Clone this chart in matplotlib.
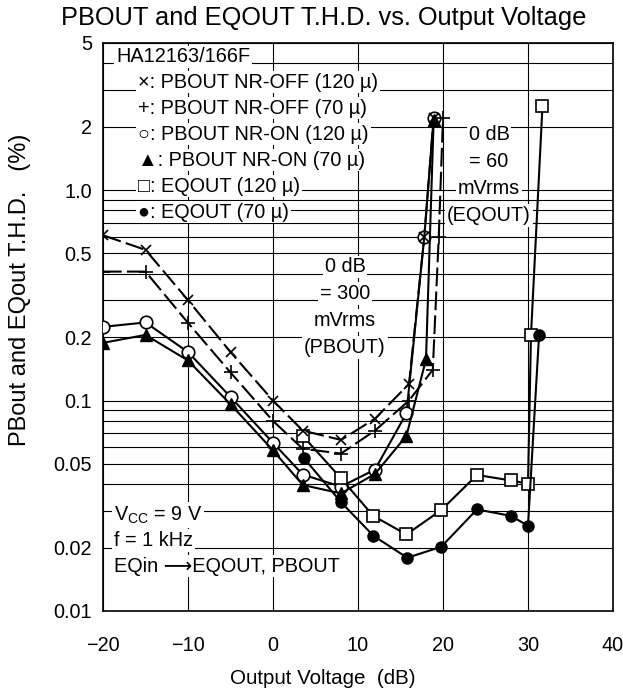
import matplotlib
matplotlib.use("Agg")
import matplotlib.pyplot as plt
from matplotlib.ticker import FixedLocator, NullFormatter

plt.rcParams['font.family'] = ['Liberation Sans', 'DejaVu Sans']
plt.rcParams['mathtext.default'] = 'regular'

# ---- data ----
x_pb_off120 = [-20, -15, -10, -5, 0, 3.5, 8, 12, 16, 17.8, 18.9]
y_pb_off120 = [0.61, 0.52, 0.30, 0.17, 0.10, 0.072, 0.065, 0.082, 0.12, 0.60, 2.2]

x_pb_off70 = [-20, -15, -10, -5, 0, 3.5, 8, 12, 16, 18.8, 19.5, 20]
y_pb_off70 = [0.41, 0.41, 0.234, 0.136, 0.080, 0.059, 0.056, 0.072, 0.10, 0.14, 0.60, 2.2]

x_pb_on120 = [-20, -15, -10, -5, 0, 3.5, 8, 12, 15.7, 17.8, 18.9]
y_pb_on120 = [0.224, 0.235, 0.170, 0.104, 0.063, 0.0445, 0.039, 0.047, 0.087, 0.60, 2.2]

x_pb_on70 = [-20, -15, -10, -5, 0, 3.5, 8, 12, 15.7, 18, 18.9]
y_pb_on70 = [0.188, 0.205, 0.155, 0.096, 0.058, 0.0397, 0.0362, 0.0448, 0.068, 0.157, 2.15]

x_eq120 = [3.5, 8, 11.8, 15.7, 19.8, 24, 28, 30, 30.35, 31.7]
y_eq120 = [0.068, 0.0427, 0.0283, 0.0231, 0.0302, 0.0443, 0.0417, 0.0403, 0.204, 2.5]

x_eq70 = [3.6, 8, 11.8, 15.8, 19.8, 24, 28, 30, 31.3]
y_eq70 = [0.0535, 0.0329, 0.0228, 0.0179, 0.0202, 0.0304, 0.0283, 0.0254, 0.204]

x_ticks = [-20, -10, 0, 10, 20, 30, 40]
y_ticks = [0.01, 0.02, 0.05, 0.1, 0.2, 0.5, 1.0, 2, 5]
y_ticklabels = ['0.01', '0.02', '0.05', '0.1', '0.2', '0.5', '1.0', '2', '5']
y_grid_minor = [0.03, 0.04, 0.06, 0.07, 0.08, 0.09, 0.3, 0.4, 0.6, 0.7, 0.8, 0.9, 3, 4]

legend_lines = ['HA12163/166F',
                '\u00d7: PBOUT NR-OFF (120 \u00b5)',
                '+: PBOUT NR-OFF (70 \u00b5)',
                '\u25cb: PBOUT NR-ON (120 \u00b5)',
                '\u25b2: PBOUT NR-ON (70 \u00b5)',
                '\u25a1: EQOUT (120 \u00b5)',
                '\u25cf: EQOUT (70 \u00b5)']
eq_note = ['0 dB', '= 60', 'mVrms', '(EQOUT)']
pb_note = ['0 dB', '= 300', 'mVrms', '(PBOUT)']
cond_note = ['V$_{CC}$ = 9 V', 'f = 1 kHz', 'EQin \u27f6EQOUT, PBOUT']

# ---- figure ----
W, H = 623, 693
fig = plt.figure(figsize=(W / 100, H / 100), dpi=100)
L, R, T, B = 103, 613, 43, 611
ax = fig.add_axes([L / W, 1 - B / H, (R - L) / W, (B - T) / H])

ax.set_yscale('log')
ax.set_xlim(-20, 40)
ax.set_ylim(0.01, 5)

FS = 14.3
ax.set_xticks(x_ticks)
ax.set_xticklabels([('\u2212%d' % -v) if v < 0 else str(v) for v in x_ticks], fontsize=FS)
ax.yaxis.set_major_locator(FixedLocator(y_ticks))
ax.set_yticklabels(y_ticklabels, fontsize=FS)
ax.yaxis.set_minor_locator(FixedLocator(y_grid_minor))
ax.yaxis.set_minor_formatter(NullFormatter())
ax.tick_params(axis='both', which='both', length=0)
ax.tick_params(axis='x', pad=18)
ax.tick_params(axis='y', pad=8)

ax.grid(True, which='both', axis='y', color='black', lw=0.8)
ax.grid(True, which='major', axis='x', color='black', lw=0.8)
ax.set_axisbelow(True)
for s in ax.spines.values():
    s.set_linewidth(1.2)

lw = 1.5
ms = 8
dash = (0, (9, 2.5))
ax.plot(x_pb_on120, y_pb_on120, color='black', lw=lw, marker='o', ms=ms + 1,
        mfc='white', mec='black', mew=1.2, zorder=4)
ax.plot(x_pb_on70, y_pb_on70, color='black', lw=lw, marker='^', ms=ms,
        mfc='black', mec='black', zorder=4)
ax.plot(x_pb_off120, y_pb_off120, color='black', lw=lw, ls=dash, marker='x',
        ms=ms - 1, mew=1.2, zorder=5)
ax.plot(x_pb_off70, y_pb_off70, color='black', lw=lw, ls=dash, marker='+',
        ms=ms + 2, mew=1.2, zorder=5)
ax.plot(x_eq120, y_eq120, color='black', lw=lw, marker='s', ms=ms,
        mfc='white', mec='black', mew=1.2, zorder=4)
ax.plot(x_eq70, y_eq70, color='black', lw=lw, marker='o', ms=ms,
        mfc='black', mec='black', zorder=4)

box = dict(facecolor='white', edgecolor='none', pad=1.5)


def px_text(x, y, s, ha='left'):
    fig.text(x / W, 1 - y / H, s, ha=ha, va='center', fontsize=FS, bbox=box,
             zorder=3, family=['Liberation Sans', 'DejaVu Sans'])


# legend block
px_text(116, 57, legend_lines[0])
for i, s in enumerate(legend_lines[1:]):
    px_text(138, 82 + i * 26, s)

# EQOUT note
for i, s in enumerate(eq_note):
    px_text(489, 135 + i * 26.7, s, ha='center')

# PBOUT note
for i, s in enumerate(pb_note):
    px_text(345, 267 + i * 26.7, s, ha='center')

# conditions
for i, s in enumerate(cond_note):
    px_text(114, 515 + i * 25.5, s)

fig.text(324 / W, 1 - 18 / H, 'PBOUT and EQOUT T.H.D. vs. Output Voltage',
         ha='center', va='center', fontsize=18.3)
fig.text(323 / W, 1 - 678 / H, 'Output Voltage  (dB)', ha='center',
         va='center', fontsize=14.8)
fig.text(20 / W, 1 - 290 / H, 'PBout and EQout T.H.D.   (%)', ha='center',
         va='center', rotation=90, fontsize=17)

fig.savefig('out.png', dpi=100)
